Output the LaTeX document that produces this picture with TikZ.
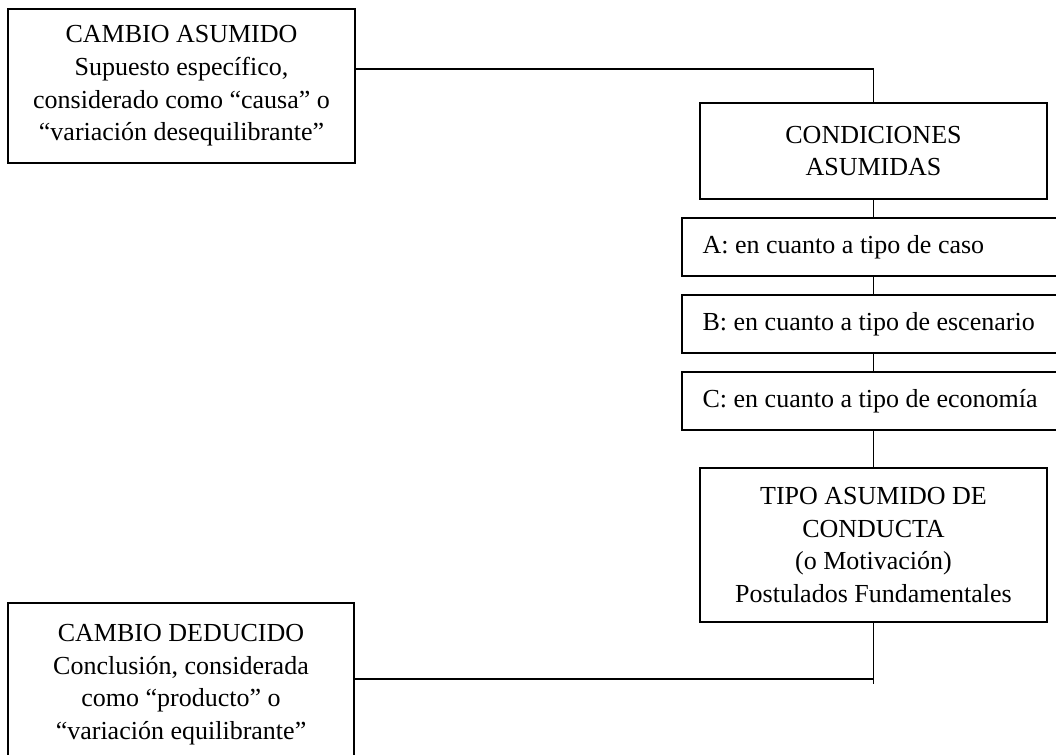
\documentclass[tikz,border=0pt]{standalone}
\usepackage{fontspec}
\setmainfont{Liberation Serif}
\begin{document}
\begin{tikzpicture}[x=0.75pt, y=-0.75pt, line width=1.4pt,
    caja/.style={draw, align=center, inner sep=0pt, minimum width=260pt,
      font=\fontsize{19.5}{24.5}\selectfont},
    franja/.style={draw, anchor=west, align=flush left, minimum height=43.5pt,
      text width=263pt, inner xsep=15.5pt, inner ysep=0pt,
      font=\fontsize{19.5}{24.5}\selectfont}]
  \clip (0,0) rectangle (1056,755);

  \node[caja, minimum height=115.5pt] (asumido) at (181.5,86)
    {CAMBIO ASUMIDO\\Supuesto específico,\\considerado como “causa” o\\“variación desequilibrante”};
  \node[caja, minimum height=72pt] (condiciones) at (873.5,151) {CONDICIONES\\ASUMIDAS};
  \foreach \letra/\y/\texto in {A/247/caso, B/324/escenario, C/401/economía} {
    \node[franja] (tipo\letra) at (681,\y) {\letra: en cuanto a tipo de \texto};
  }
  \node[caja, minimum height=115.5pt] (conducta) at (873.5,545)
    {TIPO ASUMIDO DE\\CONDUCTA\\(o Motivación)\\Postulados Fundamentales};
  \node[caja, minimum height=122pt] (deducido) at (181,684.5)
    {CAMBIO DEDUCIDO\\Conclusión, considerada\\como “producto” o\\“variación equilibrante”};

  \coordinate (codo1) at (873.5,69);
  \coordinate (codo2) at (873.5,679);
  \coordinate (fin) at (873.5,684);

  \draw (asumido.east |- codo1) -- (codo1) -- (condiciones.north);
  \draw (condiciones.south) -- (condiciones.south |- tipoA.north);
  \draw (condiciones.south |- tipoA.south) -- (condiciones.south |- tipoB.north);
  \draw (condiciones.south |- tipoB.south) -- (condiciones.south |- tipoC.north);
  \draw (condiciones.south |- tipoC.south) -- (conducta.north);
  \draw (conducta.south) -- (fin);
  \draw (deducido.east |- codo2) -- (codo2);
\end{tikzpicture}
\end{document}
